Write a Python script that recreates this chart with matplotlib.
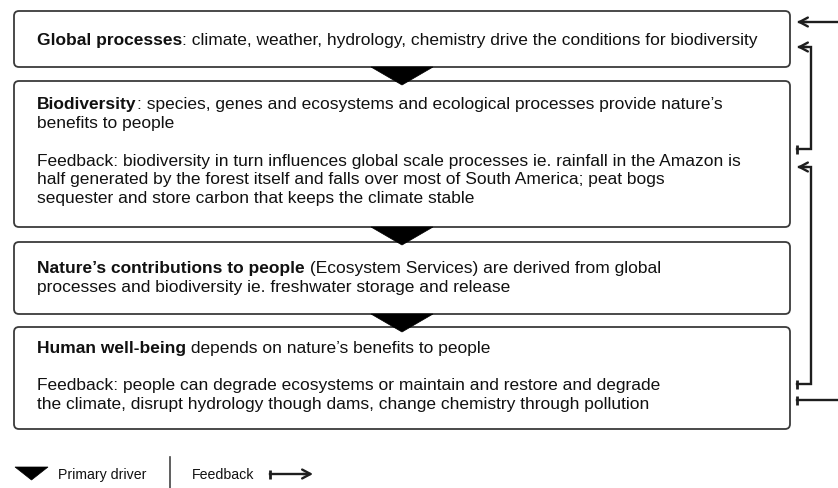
import matplotlib
matplotlib.use('Agg')
import matplotlib.pyplot as plt
from matplotlib.patches import FancyBboxPatch, Polygon

plt.rcParams['font.family'] = ['Liberation Sans', 'DejaVu Sans']

# 框内文字
titles = ['Global processes', 'Biodiversity', 'Nature’s contributions to people', 'Human well-being']
first_lines = [
    ': climate, weather, hydrology, chemistry drive the conditions for biodiversity',
    ': species, genes and ecosystems and ecological processes provide nature’s',
    ' (Ecosystem Services) are derived from global',
    ' depends on nature’s benefits to people',
]
more_lines = [
    [],
    ['benefits to people', '',
     'Feedback: biodiversity in turn influences global scale processes ie. rainfall in the Amazon is',
     'half generated by the forest itself and falls over most of South America; peat bogs',
     'sequester and store carbon that keeps the climate stable'],
    ['processes and biodiversity ie. freshwater storage and release'],
    ['',
     'Feedback: people can degrade ecosystems or maintain and restore and degrade',
     'the climate, disrupt hydrology though dams, change chemistry through pollution'],
]
legend_labels = ['Primary driver', 'Feedback']

# 布局（像素）
W, H = 838, 489
box_left, box_right = 14, 790
box_top = [12, 82, 243, 328]
box_bottom = [68, 228, 315, 430]
text_y0 = [40, 105, 269, 348]
line_h = 18.7
text_x = 37
fs = 12.5
edge = '#3a3a3a'
ink = '#111111'

fig = plt.figure(figsize=(W / 100, H / 100), dpi=100, facecolor='white')
ax = fig.add_axes([0, 0, 1, 1])
ax.set_xlim(0, W)
ax.set_ylim(H, 0)
ax.axis('off')
renderer = fig.canvas.get_renderer()

for i in range(len(titles)):
    ax.add_patch(FancyBboxPatch((box_left, box_top[i]), box_right - box_left,
                                box_bottom[i] - box_top[i],
                                boxstyle='round,pad=0,rounding_size=5',
                                fc='white', ec=edge, lw=1.3, zorder=1))
    t = ax.text(text_x, text_y0[i], titles[i], fontsize=fs, fontweight='bold',
                va='center', ha='left', color=ink, zorder=3)
    w = t.get_window_extent(renderer).width
    ax.text(text_x + w, text_y0[i], first_lines[i], fontsize=fs,
            va='center', ha='left', color=ink, zorder=3)
    for k, s in enumerate(more_lines[i]):
        if s:
            ax.text(text_x, text_y0[i] + (k + 1) * line_h, s, fontsize=fs,
                    va='center', ha='left', color=ink, zorder=3)

# 主驱动三角形
tri_cx, tri_w, tri_h = 402, 62, 18
for yb in box_bottom[:3]:
    ax.add_patch(Polygon([(tri_cx - tri_w / 2, yb), (tri_cx + tri_w / 2, yb),
                          (tri_cx, yb + tri_h)], closed=True, fc='black',
                         ec='black', lw=0.5, zorder=4))

# 反馈箭头
lc = '#1e1e1e'
lw = 1.7
tip_x, bar_x, vx = 797, 797, 811


def head(x, y, direction):
    ax.annotate('', xy=(x, y), xytext=(x + 10 * direction, y),
                arrowprops=dict(arrowstyle='->,head_length=0.6,head_width=0.32',
                                color=lc, lw=lw, shrinkA=0, shrinkB=0))


def bar(x, y):
    ax.plot([x, x], [y - 4.5, y + 4.5], color=lc, lw=2.0, solid_capstyle='butt')


ax.plot([tip_x + 2, W], [23, 23], color=lc, lw=lw)
head(tip_x, 23, 1)

for ya, yb in [(48, 150), (168, 385)]:
    ax.plot([tip_x + 2, vx, vx, bar_x], [ya, ya, yb, yb], color=lc, lw=lw,
            solid_joinstyle='miter')
    head(tip_x, ya, 1)
    bar(bar_x, yb)

ax.plot([bar_x, W], [401, 401], color=lc, lw=lw)
bar(bar_x, 401)

# 图例
ly = 475
ax.add_patch(Polygon([(15, 468), (48, 468), (31.5, 481)], closed=True,
                     fc='black', ec='black', lw=0.5))
ax.text(58, ly, legend_labels[0], fontsize=10.2, va='center', ha='left', color=ink)
ax.plot([170, 170], [458, 489], color='#444444', lw=1.2)
ax.text(192, ly, legend_labels[1], fontsize=10.2, va='center', ha='left', color=ink)
ax.plot([270, 308], [ly, ly], color=lc, lw=lw)
bar(270, ly)
head(313, ly, -1)

fig.savefig('out.png', dpi=100, facecolor='white')
plt.close(fig)
